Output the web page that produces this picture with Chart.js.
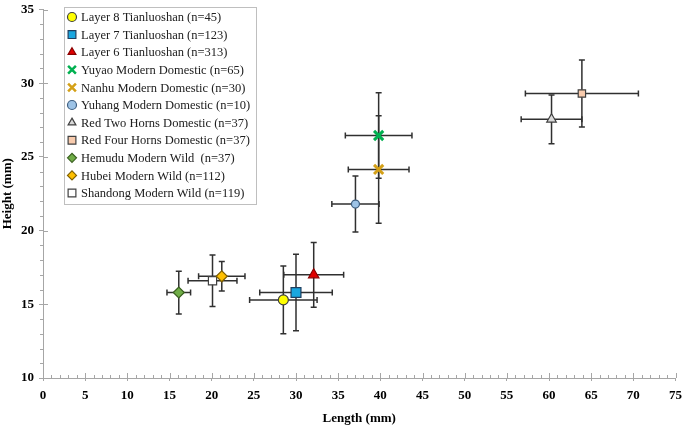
<!DOCTYPE html>
<html>
<head>
<meta charset="utf-8">
<script src="https://cdn.jsdelivr.net/npm/chart.js@4"></script>
<style>
  html, body { margin: 0; padding: 0; background: #fff; }
  #wrap { width: 685px; height: 426px; }
</style>
</head>
<body>
<div id="wrap"><canvas id="chart" width="685" height="426"></canvas></div>
<script>
// data
var groups = ['Layer 8 Tianluoshan (n=45)', 'Layer 7 Tianluoshan (n=123)', 'Layer 6 Tianluoshan (n=313)',
    'Yuyao Modern Domestic (n=65)', 'Nanhu Modern Domestic (n=30)', 'Yuhang Modern Domestic (n=10)',
    'Red Two Horns Domestic (n=37)', 'Red Four Horns Domestic (n=37)', 'Hemudu Modern Wild  (n=37)',
    'Hubei Modern Wild (n=112)', 'Shandong Modern Wild (n=119)'];
var lengthMean = [28.5, 30.0, 32.1, 39.8, 39.8, 37.05, 60.3, 63.9, 16.1, 21.2, 20.1];
var heightMean = [15.3, 15.8, 17.0, 26.45, 24.15, 21.8, 27.55, 29.3, 15.8, 16.9, 16.6];
var lengthSd = [4.0, 4.3, 3.55, 3.95, 3.6, 2.8, 3.6, 6.7, 1.4, 2.75, 2.9];
var heightSd = [2.3, 2.6, 2.2, 2.9, 3.65, 1.9, 1.65, 2.27, 1.45, 1.0, 1.75];

var shapes = ['circle', 'rect', 'triangle', 'crossRot', 'crossRot', 'circle', 'triangle', 'rect', 'rectRot', 'rectRot', 'rect'];
var fills = ['#FFFF00', '#1AA7E0', '#E00000', '#00B050', '#D4A017', '#9DC3E6', '#D9D9D9', '#F8CBAD', '#70AD47', '#FFC000', '#FFFFFF'];
var borders = ['#404040', '#1F3F60', '#8B0000', '#00B050', '#D4A017', '#3F5F80', '#404040', '#404040', '#3A6020', '#806000', '#404040'];
var sizes = [5, 7, 6, 6.5, 6.5, 4, 5.5, 5.2, 5.5, 5.5, 5.8];

var datasets = groups.map(function (g, i) {
    return {
        label: g,
        data: [{ x: lengthMean[i], y: heightMean[i] }],
        pointStyle: shapes[i],
        pointRadius: sizes[i],
        pointHoverRadius: sizes[i],
        backgroundColor: fills[i],
        borderColor: borders[i],
        pointBorderWidth: shapes[i] === 'crossRot' ? 3 : 1.2
    };
});

var serif = '"Liberation Serif", "Times New Roman", serif';

var errorBars = {
    id: 'errorBars',
    beforeDatasetsDraw: function (chart) {
        var c = chart.ctx, xs = chart.scales.x, ys = chart.scales.y;
        c.save();
        c.strokeStyle = '#303030';
        c.lineWidth = 1.5;
        for (var i = 0; i < groups.length; i++) {
            var px = xs.getPixelForValue(lengthMean[i]);
            var py = ys.getPixelForValue(heightMean[i]);
            var x1 = xs.getPixelForValue(lengthMean[i] - lengthSd[i]);
            var x2 = xs.getPixelForValue(lengthMean[i] + lengthSd[i]);
            var y1 = ys.getPixelForValue(heightMean[i] - heightSd[i]);
            var y2 = ys.getPixelForValue(heightMean[i] + heightSd[i]);
            c.beginPath();
            c.moveTo(x1, py); c.lineTo(x2, py);
            c.moveTo(x1, py - 3); c.lineTo(x1, py + 3);
            c.moveTo(x2, py - 3); c.lineTo(x2, py + 3);
            c.moveTo(px, y1); c.lineTo(px, y2);
            c.moveTo(px - 3, y1); c.lineTo(px + 3, y1);
            c.moveTo(px - 3, y2); c.lineTo(px + 3, y2);
            c.stroke();
        }
        c.restore();
    }
};

// minor ticks and inner halves of the major ticks
var minorTicks = {
    id: 'minorTicks',
    afterDraw: function (chart) {
        var c = chart.ctx, xs = chart.scales.x, ys = chart.scales.y;
        var a = chart.chartArea;
        c.save();
        c.strokeStyle = '#A6A6A6';
        c.lineWidth = 1;
        c.beginPath();
        for (var v = 0; v <= 75; v++) {
            var px = Math.round(xs.getPixelForValue(v)) + 0.5;
            c.moveTo(px, a.bottom);
            c.lineTo(px, a.bottom - (v % 5 === 0 ? 5 : 3));
        }
        for (var w = 10; w <= 35; w++) {
            var py = Math.round(ys.getPixelForValue(w)) + 0.5;
            c.moveTo(a.left, py);
            c.lineTo(a.left + (w % 5 === 0 ? 5 : 0), py);
            if (w % 5 !== 0) { c.moveTo(a.left, py); c.lineTo(a.left - 3, py); }
        }
        c.stroke();
        c.restore();
    }
};

var boxLegend = {
    id: 'boxLegend',
    afterDraw: function (chart) {
        var c = chart.ctx;
        var left = 64, top = 7, w = 192, rowH = 17.6;
        c.save();
        c.fillStyle = '#fff';
        c.strokeStyle = '#BFBFBF';
        c.lineWidth = 1;
        c.fillRect(left, top, w, 197);
        c.strokeRect(left + 0.5, top + 0.5, w, 197);
        c.font = '12.5px ' + serif;
        c.textBaseline = 'middle';
        chart.data.datasets.forEach(function (ds, i) {
            var y = top + 10 + i * rowH;
            c.fillStyle = ds.backgroundColor;
            c.strokeStyle = ds.borderColor;
            c.lineWidth = ds.pointStyle === 'crossRot' ? 2.5 : 1.2;
            var r = ds.pointStyle === 'rect' ? 5.5 : (ds.pointStyle === 'crossRot' ? 5.5 : 4.5);
            Chart.helpers.drawPoint(c, { pointStyle: ds.pointStyle, radius: r, borderWidth: c.lineWidth }, left + 8, y);
            c.fillStyle = '#202020';
            c.fillText(ds.label, left + 17, y + 1);
        });
        // c.fillText(JSON.stringify(chart.chartArea), 300, 350);
        c.restore();
    }
};

function noPad(s) {
    s.paddingTop = 0; s.paddingBottom = 0; s.paddingLeft = 0; s.paddingRight = 0;
}

new Chart(document.getElementById('chart'), {
    type: 'scatter',
    data: { datasets: datasets },
    plugins: [errorBars, minorTicks, boxLegend],
    options: {
        responsive: false,
        animation: false,
        layout: { padding: { top: 3, right: 1, left: 0, bottom: 0 } },
        plugins: { legend: { display: false }, tooltip: { enabled: false } },
        scales: {
            x: {
                type: 'linear', min: 0, max: 75,
                afterFit: function (s) { s.height = 48; noPad(s); },
                border: { color: '#A6A6A6', width: 1 },
                grid: { drawOnChartArea: false, tickLength: 3, color: '#A6A6A6' },
                ticks: { stepSize: 5, color: '#000', padding: 7, maxRotation: 0,
                    font: { family: serif, size: 13, weight: 'bold' } },
                title: { display: true, text: 'Length (mm)', color: '#000', padding: { top: 6, bottom: 0 },
                    font: { family: serif, size: 13, weight: 'bold' } }
            },
            y: {
                type: 'linear', min: 10, max: 35,
                afterFit: function (s) { s.width = 43; noPad(s); },
                border: { color: '#A6A6A6', width: 1 },
                grid: { drawOnChartArea: false, tickLength: 4, color: '#A6A6A6' },
                ticks: { stepSize: 5, color: '#000', padding: 5,
                    font: { family: serif, size: 13, weight: 'bold' } },
                title: { display: true, text: 'Height (mm)', color: '#000', padding: { top: 0, bottom: 4 },
                    font: { family: serif, size: 13, weight: 'bold' } }
            }
        }
    }
});
</script>
</body>
</html>
